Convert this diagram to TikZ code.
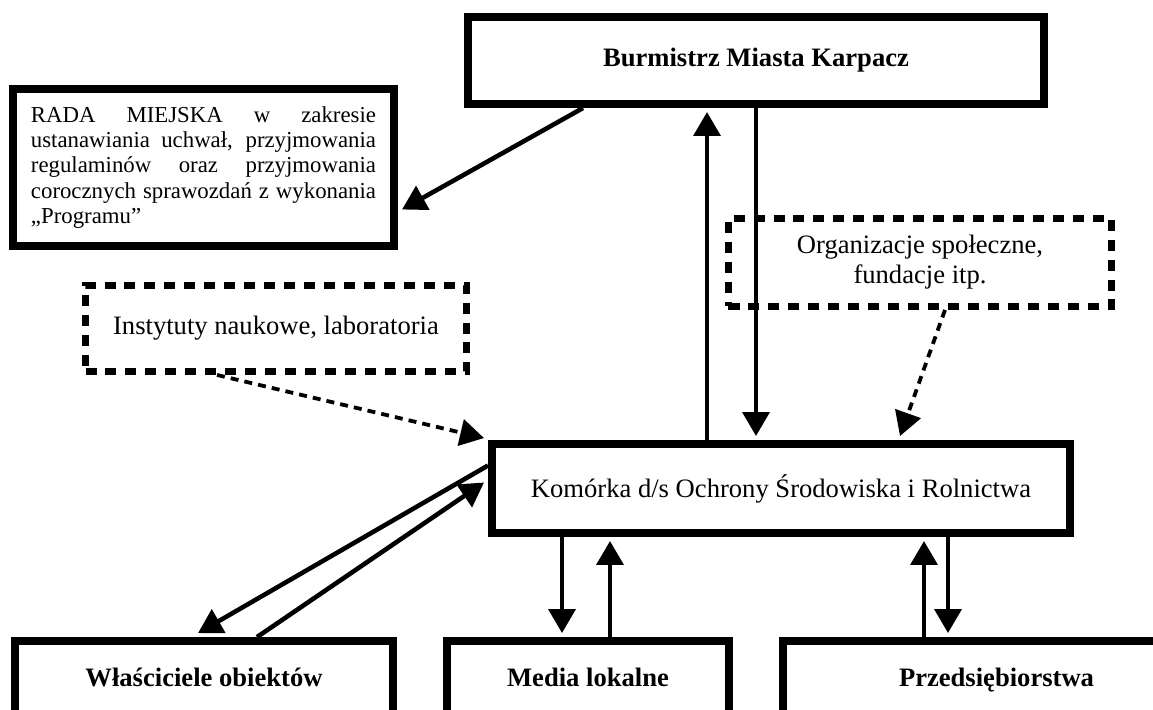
\documentclass[tikz,border=0pt]{standalone}
\usepackage{fontspec}
\setmainfont{Liberation Serif}
\usetikzlibrary{arrows.meta,calc}
\tikzset{
  box/.style={shape=rectangle, draw=black, line width=4.2pt, inner sep=0pt, align=center, font=\fontsize{14}{15.8}\selectfont},
  dashbox/.style={box, line width=3.6pt, dash pattern=on 5.8pt off 4.7pt},
  bottombox/.style={box, font=\fontsize{14}{15.8}\selectfont\bfseries, minimum height=41pt, text height=9.5pt, text depth=3pt},
  arr/.style={-{Triangle[length=12.6pt,width=14pt]}, line width=2.4pt, draw=black},
  dotarr/.style={arr, line width=2pt, dash pattern=on 4.2pt off 3.2pt}
}
\begin{document}
\begin{tikzpicture}[x=0.5263pt, y=-0.5263pt]
\useasboundingbox (0,0) rectangle (1153,709);
\node[box, font=\fontsize{14}{15.8}\selectfont\bfseries, minimum width=303.2pt, minimum height=45.8pt] (burm) at (756,60.5) {Burmistrz Miasta Karpacz};
\node[box, minimum width=200.5pt, minimum height=82.6pt, text width=181.6pt, align=justify, font=\fontsize{12}{13.3}\selectfont] (rada) at (203.5,167.5) {RADA MIEJSKA w zakresie\linebreak ustanawiania uchwał, przyjmowania\linebreak regulaminów oraz przyjmowania\linebreak corocznych sprawozdań z wykonania\linebreak „Programu”\par\vspace{7pt}};
\node[dashbox, minimum width=201.6pt, minimum height=46.3pt] (org) at (920,262.5) {Organizacje społeczne,\\fundacje itp.};
\node[dashbox, minimum width=200.5pt, minimum height=45.3pt] (inst) at (276,328.5) {Instytuty naukowe, laboratoria};
\node[box, minimum width=304.2pt, minimum height=46.8pt] (kom) at (781,488.5) {Komórka d/s Ochrony Środowiska i Rolnictwa};
\node[bottombox, minimum width=198.9pt] (wlas) at (204,680) {Właściciele obiektów};
\node[bottombox, minimum width=148.4pt] (media) at (588,680) {Media lokalne};
\node[bottombox, minimum width=224.7pt] (prz) at (996.5,680) {Przedsiębiorstwa};
\path ($(burm.south)+(-173,0)$) edge [arr] ($(rada.east)+(4,42)$);
\path ($(kom.north)+(-74,0)$) edge [arr] ($(burm.south)+(-49,4)$);
\path (burm.south) edge [arr] ($(kom.north)+(-25,-4)$);
\path ($(org.south)+(25,0)$) edge [dotarr] ($(kom.north)+(119,-4)$);
\path ($(inst.south)+(-59,0)$) edge [dotarr] ($(kom.north west)+(-4,-2)$);
\path ($(kom.west)+(0,-23)$) edge [arr] ($(wlas.north)+(-6,-4)$);
\path ($(wlas.north)+(53,0)$) edge [arr] ($(kom.west)+(-4,-6)$);
\path ($(kom.south)+(-219,0)$) edge [arr] ($(media.north)+(-26,-4)$);
\path ($(media.north)+(22,0)$) edge [arr] ($(kom.south)+(-171,4)$);
\path ($(prz.north)+(-72.5,0)$) edge [arr] ($(kom.south)+(143,4)$);
\path ($(kom.south)+(167,0)$) edge [arr] ($(prz.north)+(-48.5,-4)$);
\end{tikzpicture}
\end{document}
